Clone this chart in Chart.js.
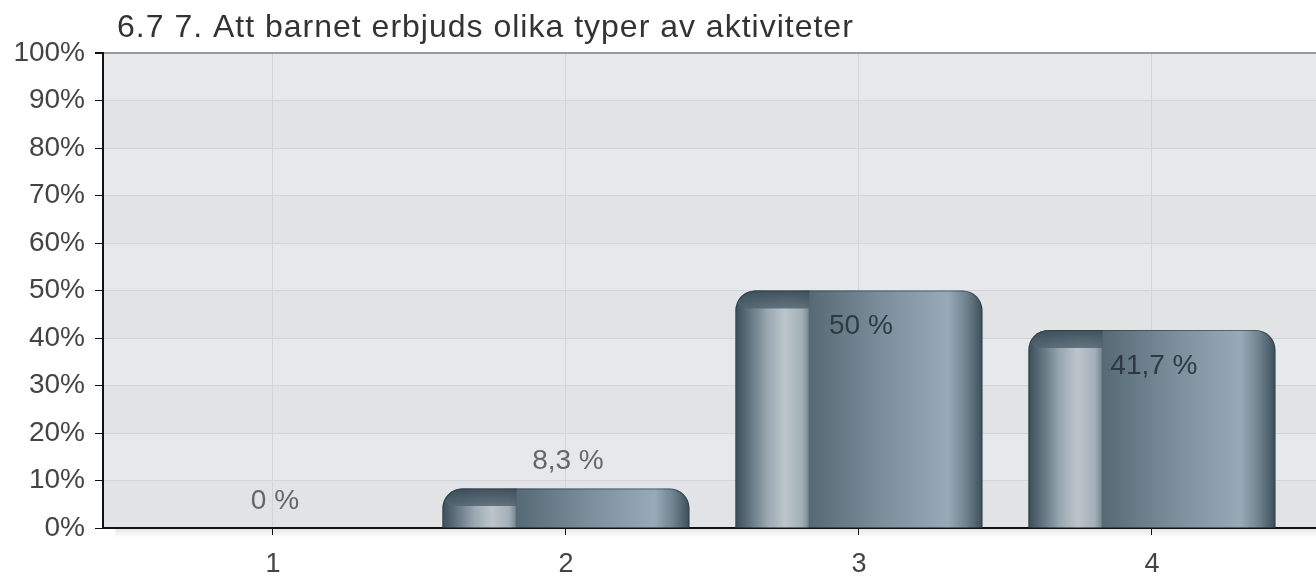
<!DOCTYPE html>
<html>
<head>
<meta charset="utf-8">
<script src="https://cdn.jsdelivr.net/npm/chart.js@4/dist/chart.umd.min.js"></script>
<style>
  html, body { margin: 0; padding: 0; background: #fff; }
  #wrap { width: 1316px; height: 576px; position: relative; }
</style>
</head>
<body>
<div id="wrap"><canvas id="chart"></canvas></div>
<script>
// data
const chartTitle = '6.7 7. Att barnet erbjuds olika typer av aktiviteter';
const categories = ['1', '2', '3', '4'];
const percentValues = [0, 8.3, 50, 41.7];
const yTicks = [0, 10, 20, 30, 40, 50, 60, 70, 80, 90, 100];

const FONT = "'Liberation Sans', Arial, sans-serif";
const BAR_PCT = 0.843;

// horizontal "cylinder" gradient for each bar
function barGradient(context) {
    const chart = context.chart;
    if (!chart.chartArea) return '#5f7380';
    const xs = chart.scales.x;
    const step = xs.getPixelForValue(2) - xs.getPixelForValue(1);
    const cx = xs.getPixelForValue(context.dataIndex + 1);
    const half = step * BAR_PCT / 2;
    const g = chart.ctx.createLinearGradient(cx - half, 0, cx + half, 0);
    g.addColorStop(0, '#3b4e5a');
    g.addColorStop(0.05, '#5c6f7b');
    g.addColorStop(0.13, '#9aa8b1');
    g.addColorStop(0.2, '#bcc5cb');
    g.addColorStop(0.27, '#a3afb7');
    g.addColorStop(0.293, '#7d8d96');
    g.addColorStop(0.3, '#566a76');
    g.addColorStop(0.6, '#7b909c');
    g.addColorStop(0.86, '#96abb7');
    g.addColorStop(0.935, '#6e828e');
    g.addColorStop(1, '#3b4e5a');
    return g;
}

// alternating bands behind the plot + soft shadow under the axis
const plotBackground = {
    id: 'plotBackground',
    beforeDraw(chart) {
        const { ctx, chartArea: a, scales: { y } } = chart;
        ctx.save();
        for (let i = 0; i < yTicks.length - 1; i++) {
            const top = y.getPixelForValue(yTicks[i + 1]);
            const bot = y.getPixelForValue(yTicks[i]);
            ctx.fillStyle = i % 2 === 0 ? '#e2e3e5' : '#e6e9ec';
            ctx.fillRect(a.left, top, a.right - a.left, bot - top);
        }
        const sh = ctx.createLinearGradient(0, a.bottom, 0, a.bottom + 10);
        sh.addColorStop(0, 'rgba(0,0,0,0.10)');
        sh.addColorStop(1, 'rgba(0,0,0,0)');
        ctx.fillStyle = sh;
        ctx.fillRect(a.left + 12, a.bottom, a.right - a.left, 10);
        ctx.restore();
    }
};

// darker bevel at the top-left of each bar, then the value labels
const barExtras = {
    id: 'barExtras',
    afterDatasetsDraw(chart) {
        const ctx = chart.ctx;
        const meta = chart.getDatasetMeta(0);
        ctx.save();
        meta.data.forEach((bar, i) => {
            const p = bar.getProps(['x', 'y', 'base', 'width'], true);
            const left = p.x - p.width / 2;
            const h = p.base - p.y;
            if (h > 2) {
                const r = Math.min(20, h, p.width / 2);
                ctx.save();
                ctx.beginPath();
                ctx.roundRect(left, p.y, p.width, h, [r, r, 0, 0]);
                ctx.clip();
                const bh = Math.min(18, h * 0.45);
                const g = ctx.createLinearGradient(0, p.y, 0, p.y + bh);
                g.addColorStop(0, 'rgba(58,76,88,0.95)');
                g.addColorStop(1, 'rgba(84,102,114,0.85)');
                ctx.fillStyle = g;
                ctx.beginPath();
                ctx.roundRect(left, p.y - 20, p.width * 0.3, bh + 20, [0, 0, 0, 12]);
                ctx.fill();
                ctx.strokeStyle = 'rgba(40,55,65,0.6)';
                ctx.lineWidth = 2;
                ctx.beginPath();
                ctx.roundRect(left, p.y, p.width, h + 4, [r, r, 0, 0]);
                ctx.stroke();
                ctx.restore();
            }
            const v = percentValues[i];
            const txt = String(v).replace('.', ',') + ' %';
            ctx.font = '28px ' + FONT;
            ctx.textAlign = 'center';
            ctx.textBaseline = 'middle';
            if (h > 60) {
                ctx.fillStyle = '#2e3a42';
                ctx.fillText(txt, p.x + 2, p.y + 36);
            } else {
                ctx.fillStyle = '#666';
                ctx.fillText(txt, p.x + 2, p.y - 27);
            }
        });
        ctx.restore();
    }
};

const titlePlugin = {
    id: 'leftTitle',
    afterDraw(chart) {
        const ctx = chart.ctx;
        ctx.save();
        ctx.font = '32px ' + FONT;
        ctx.letterSpacing = '1px';
        ctx.fillStyle = '#333';
        ctx.textAlign = 'left';
        ctx.textBaseline = 'alphabetic';
        ctx.fillText(chartTitle, chart.chartArea.left + 14, 37);
        ctx.restore();
    }
};

const ctx = document.getElementById('chart').getContext('2d');
new Chart(ctx, {
    type: 'bar',
    data: {
        datasets: [{
            data: percentValues.map((v, i) => ({ x: i + 1, y: v })),
            backgroundColor: barGradient,
            borderWidth: 0,
            borderRadius: { topLeft: 20, topRight: 20, bottomLeft: 0, bottomRight: 0 },
            borderSkipped: 'bottom',
            barPercentage: BAR_PCT,
            categoryPercentage: 1
        }]
    },
    options: {
        responsive: true,
        maintainAspectRatio: false,
        animation: false,
        layout: { padding: { top: 53, left: 0, right: 0, bottom: 0 } },
        plugins: {
            legend: { display: false },
            tooltip: { enabled: false },
            title: { display: false }
        },
        scales: {
            x: {
                type: 'linear',
                offset: false,
                min: 0.42,
                max: 4.56,
                afterBuildTicks(scale) {
                    scale.ticks = categories.map((c, i) => ({ value: i + 1 }));
                },
                afterFit(scale) { scale.height = 48; },
                ticks: {
                    callback: (v) => categories[v - 1],
                    color: '#444',
                    font: { family: FONT, size: 27 },
                    padding: 13,
                    maxRotation: 0
                },
                grid: {
                    offset: false,
                    color: '#d3d5d8',
                    lineWidth: 1,
                    tickColor: '#111',
                    tickLength: 7,
                    drawOnChartArea: true
                },
                border: { color: '#111', width: 2 }
            },
            y: {
                min: 0,
                max: 100,
                afterBuildTicks(scale) {
                    scale.ticks = yTicks.map(v => ({ value: v }));
                },
                afterFit(scale) { scale.width = 103; },
                ticks: {
                    callback: (v) => v + '%',
                    color: '#444',
                    font: { family: FONT, size: 28 },
                    padding: 10
                },
                grid: {
                    color: (c) => c.tick && c.tick.value === 100 ? '#9a9a9a' : '#d3d5d8',
                    lineWidth: (c) => c.tick && c.tick.value === 100 ? 2 : 1,
                    tickColor: '#111',
                    tickLength: 8
                },
                border: { color: '#111', width: 2 }
            }
        }
    },
    plugins: [plotBackground, barExtras, titlePlugin]
});
</script>
</body>
</html>
